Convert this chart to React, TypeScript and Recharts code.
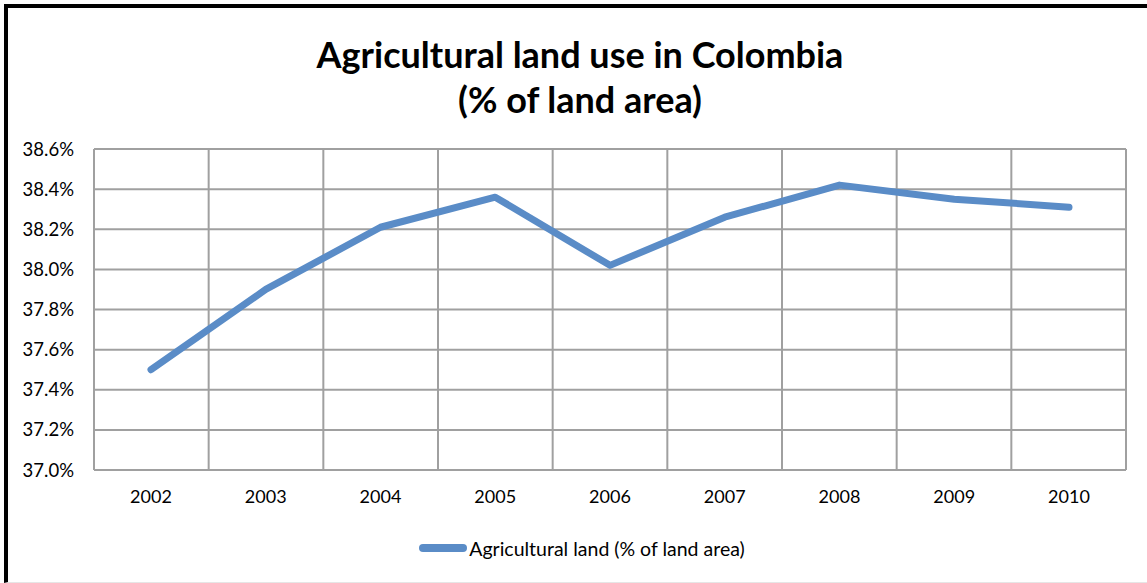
import React from "react";
import {
  CartesianGrid,
  Legend,
  Line,
  LineChart,
  XAxis,
  YAxis,
} from "recharts";

const years = ["2002", "2003", "2004", "2005", "2006", "2007", "2008", "2009", "2010"];
const agriLand = [37.5, 37.9, 38.21, 38.36, 38.02, 38.26, 38.42, 38.35, 38.31];
const yTicks = [37.0, 37.2, 37.4, 37.6, 37.8, 38.0, 38.2, 38.4, 38.6];

const data = years.map((year, i) => ({ year, value: agriLand[i] }));

const FONT = "Lato, 'Open Sans', sans-serif";
const LINE_COLOR = "#5A8CC7";
const GRID_COLOR = "#a0a0a0";

function LegendContent() {
  return (
    <div
      style={{
        display: "flex",
        justifyContent: "center",
        alignItems: "center",
        height: 40,
        paddingLeft: 17,
        fontFamily: FONT,
        fontSize: 19.5,
        color: "#000",
      }}
    >
      <span
        style={{
          display: "inline-block",
          width: 48,
          height: 8,
          borderRadius: 4,
          background: LINE_COLOR,
          marginRight: 2,
        }}
      />
      <span>Agricultural land (% of land area)</span>
    </div>
  );
}

export default function App() {
  return (
    <div
      style={{
        position: "absolute",
        left: 0,
        top: 0,
        width: 1147,
        height: 583,
        background: "#fff",
        fontFamily: FONT,
      }}
    >
      <div
        style={{
          position: "absolute",
          left: 4,
          top: 4,
          right: 0,
          bottom: 0,
          borderTop: "4px solid #000",
          borderLeft: "4px solid #000",
          borderBottom: "1px solid #e6e6e6",
        }}
      />
      <div
        style={{
          position: "absolute",
          left: 0,
          top: 32,
          width: 1160,
          textAlign: "center",
          fontWeight: 700,
          fontSize: 36,
          lineHeight: "45px",
          color: "#000",
        }}
      >
        Agricultural land use in Colombia
        <br />
        (% of land area)
      </div>
      <LineChart
        width={1147}
        height={583}
        data={data}
        margin={{ top: 149, right: 21, bottom: 15, left: 14 }}
        style={{ position: "absolute", left: 0, top: 0 }}
      >
        <CartesianGrid
          stroke={GRID_COLOR}
          strokeWidth={2}
          verticalCoordinatesGenerator={({ offset }: any) =>
            years.concat([""]).map((_, i) => offset.left + (i * offset.width) / years.length)
          }
        />
        <XAxis
          dataKey="year"
          padding={{ left: 57, right: 57 }}
          axisLine={false}
          tickLine={false}
          tickSize={0}
          tickMargin={20}
          height={58}
          tick={{ fontSize: 18, fill: "#000", fontFamily: FONT }}
        />
        <YAxis
          domain={[37, 38.6]}
          ticks={yTicks}
          interval={0}
          width={80}
          axisLine={false}
          tickLine={false}
          tickSize={8}
          tickMargin={12}
          tickFormatter={(v: number) => `${v.toFixed(1)}%`}
          tick={{ fontSize: 18.5, fill: "#000", fontFamily: FONT }}
        />
        <Legend verticalAlign="bottom" height={40} content={<LegendContent />} wrapperStyle={{ left: 0, width: 1147 }} />
        <Line
          type="linear"
          dataKey="value"
          stroke={LINE_COLOR}
          strokeWidth={7}
          strokeLinecap="round"
          strokeLinejoin="round"
          dot={false}
          activeDot={false}
          isAnimationActive={false}
        />
      </LineChart>
    </div>
  );
}
